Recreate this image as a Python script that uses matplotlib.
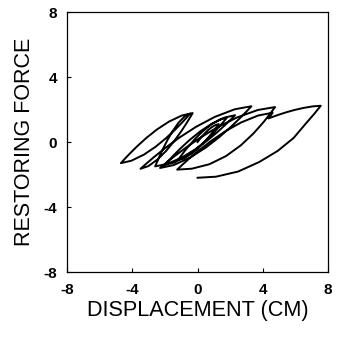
import matplotlib
matplotlib.use("Agg")
import matplotlib.pyplot as plt

# Traced hysteresis path (displacement in cm, restoring force), in time order
disp = [0.0, 0.065, 0.156, 0.286, 0.455, 0.65, 0.871, 1.105, 1.3,
        1.175, 1.0, 0.75, 0.425, 0.05, -0.375, -0.825, -1.2,
        -1.05, -0.84, -0.54, -0.15, 0.3, 0.81, 1.35, 1.8,
        1.61, 1.344, 0.964, 0.47, -0.1, -0.746, -1.43, -2.0,
        -1.785, -1.484, -1.054, -0.495, 0.15, 0.881, 1.655, 2.3,
        2.055, 1.712, 1.222, 0.585, -0.15, -0.983, -1.865, -2.6,
        -2.49, -2.342, -2.127, -1.847, -1.525, -1.159, -0.772, -0.45,
        -0.663, -0.96, -1.385, -1.938, -2.575, -3.298, -4.063, -4.7,
        -4.48, -4.172, -3.732, -3.16, -2.5, -1.752, -0.96, -0.3,
        -0.46, -0.684, -1.004, -1.42, -1.9, -2.444, -3.02, -3.5,
        -3.16, -2.684, -2.004, -1.12, -0.1, 1.056, 2.28, 3.3,
        3.02, 2.628, 2.068, 1.34, 0.5, -0.452, -1.46, -2.3,
        -1.948, -1.454, -0.749, 0.168, 1.225, 2.424, 3.693, 4.75,
        4.45, 4.03, 3.43, 2.65, 1.75, 0.73, -0.35, -1.25,
        -0.958, -0.548, 0.037, 0.798, 1.675, 2.67, 3.723, 4.6,
        4.35,
        4.51, 4.734, 5.054, 5.47, 5.95, 6.494, 7.07, 7.55,
        7.173, 6.644, 5.889, 4.908, 3.775, 2.492, 1.133, 0.0]
force = [0.0, 0.087, 0.204, 0.361, 0.548, 0.737, 0.913, 1.047, 1.1,
         0.926, 0.693, 0.378, 0.004, -0.374, -0.726, -0.994, -1.1,
         -0.895, -0.619, -0.247, 0.195, 0.642, 1.058, 1.375, 1.5,
         1.271, 0.963, 0.549, 0.056, -0.443, -0.907, -1.261, -1.4,
         -1.159, -0.836, -0.4, 0.119, 0.644, 1.132, 1.504, 1.65,
         1.401, 1.067, 0.617, 0.081, -0.461, -0.965, -1.349, -1.5,
         -1.243, -0.899, -0.434, 0.119, 0.678, 1.198, 1.594, 1.75,
         1.509, 1.186, 0.75, 0.231, -0.294, -0.782, -1.154, -1.3,
         -1.057, -0.73, -0.29, 0.234, 0.764, 1.256, 1.632, 1.78,
         1.509, 1.145, 0.655, 0.072, -0.518, -1.067, -1.485, -1.65,
         -1.346, -0.938, -0.387, 0.267, 0.93, 1.546, 2.015, 2.2,
         1.9, 1.497, 0.954, 0.308, -0.346, -0.954, -1.418, -1.6,
         -1.304, -0.906, -0.37, 0.268, 0.913, 1.513, 1.97, 2.15,
         1.738, 1.207, 0.529, -0.206, -0.861, -1.365, -1.642, -1.7,
         -1.423, -1.052, -0.552, 0.043, 0.645, 1.205, 1.632, 1.8,
         1.45,
         1.512, 1.594, 1.706, 1.838, 1.973, 2.097, 2.193, 2.23,
         1.756, 1.145, 0.25, -0.55, -1.234, -1.815, -2.134, -2.2]

ticks = [-8, -4, 0, 4, 8]
tick_labels = ["-8", "-4", "0", "4", "8"]
xlabel = "DISPLACEMENT (CM)"
ylabel = "RESTORING FORCE"

plt.rcParams['font.family'] = ['Liberation Sans', 'DejaVu Sans']

fig = plt.figure(figsize=(3.37, 3.39), dpi=100)
ax = fig.add_axes([0.199, 0.1976, 0.7745, 0.767])
ax.plot(disp, force, color='black', lw=1.4, solid_joinstyle='round')
ax.set_xlim(-8, 8)
ax.set_ylim(-8, 8)
ax.set_xticks(ticks)
ax.set_xticklabels(tick_labels, fontsize=11, fontweight='bold')
ax.set_yticks(ticks)
ax.set_yticklabels(tick_labels, fontsize=11, fontweight='bold')
ax.tick_params(direction='in', length=3, width=0.8)
ax.tick_params(axis='x', pad=8)
ax.tick_params(axis='y', pad=7)
for s in ax.spines.values():
    s.set_linewidth(0.9)
ax.set_xlabel(xlabel, fontsize=15.6, labelpad=2)
ax.set_ylabel(ylabel, fontsize=15.5, labelpad=6)
fig.savefig("out.png", dpi=100)
